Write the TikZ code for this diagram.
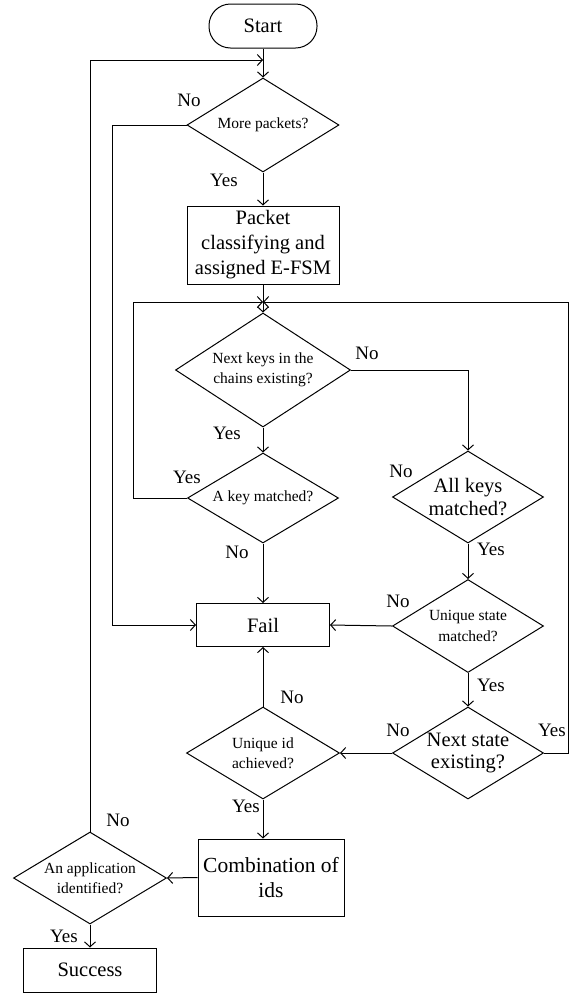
\documentclass[tikz,border=0pt]{standalone}
\usepackage{fontspec}
\setmainfont{Liberation Serif}
\usetikzlibrary{shapes.geometric,arrows.meta}
\begin{document}
\begin{tikzpicture}[x=1pt,y=-1pt,line width=1pt,
  >={Straight Barb[length=5pt,width=11pt]},
  arr/.style={->},
  boxn/.style={draw,rectangle,inner sep=0pt,align=center,font=\fontsize{20.5}{24.5}\selectfont},
  dia/.style={draw,diamond,inner sep=0pt},
  small/.style={align=center,inner sep=0pt,font=\fontsize{15.5}{20.5}\selectfont},
  big/.style={align=center,inner sep=0pt,font=\fontsize{20.5}{22.5}\selectfont},
  lab/.style={inner sep=0pt,font=\fontsize{19}{21}\selectfont}]
\useasboundingbox (0,0) rectangle (573,994);
% nodes
\node[boxn,rounded corners=21.5pt,minimum width=108pt,minimum height=44pt] (start) at (263,26) {Start};
\coordinate (t1) at (263,60);
\node[dia,minimum width=152pt,minimum height=94pt] (more) at (263,125) {};
\node[small] (moret) at (more) {More packets?};
\node[boxn,minimum width=152pt,minimum height=78pt,font=\fontsize{20.5}{25}\selectfont] (packet) at (263,245) {Packet\\classifying and\\assigned E-FSM};
\coordinate (m1) at (263,302);
\node[dia,minimum width=175pt,minimum height=114pt] (nk) at (263,370) {};
\node[small] (nkt) at (nk) {Next keys in the\\chains existing?};
\node[dia,minimum width=151pt,minimum height=90pt] (ak) at (263,498) {};
\node[small] (akt) at (ak) {A key matched?};
\node[dia,minimum width=151pt,minimum height=92pt] (all) at (468,497) {};
\node[big] (allt) at (all) {All keys\\matched?};
\node[boxn,minimum width=133pt,minimum height=43pt] (fail) at (263,625) {Fail};
\node[dia,minimum width=151pt,minimum height=93pt] (us) at (468,626) {};
\node[small] (ust) at (us) {Unique state\\matched?};
\node[dia,minimum width=153pt,minimum height=92pt] (uid) at (263,753) {};
\node[small] (uidt) at (uid) {Unique id\\achieved?};
\node[dia,minimum width=151pt,minimum height=92pt] (ns) at (468,753) {};
\node[big] (nst) at (ns) {Next state\\existing?};
\node[boxn,minimum width=146pt,minimum height=77pt,font=\fontsize{21.5}{25}\selectfont] (comb) at (271,877.5) {Combination of\\ids};
\node[dia,minimum width=153pt,minimum height=92pt] (app) at (90,878) {};
\node[small] (appt) at (app) {An application\\identified?};
\node[boxn,minimum width=133pt,minimum height=44pt] (succ) at (90,970) {Success};
% connectors
\draw[arr] (start.south) -- (more.north);
\draw[arr] (app.north) |- (t1);
\draw[arr] (more.west) -- ++(-74,0) |- (fail.west);
\draw[arr] (more.south) -- (packet.north);
\draw[arr] (packet.south) -- (nk.north);
\draw[arr] (ak.west) -- ++(-53.5,0) |- (m1);
\draw[arr] (ns.east) -- ++(24.5,0) |- (m1);
\draw[arr] (nk.east) -| (all.north);
\draw[arr] (nk.south) -- (ak.north);
\draw[arr] (ak.south) -- (fail.north);
\draw[arr] (all.south) -- (us.north);
\draw[arr] (us.west) -- (fail.east);
\draw[arr] (us.south) -- (ns.north);
\draw[arr] (ns.west) -- (uid.east);
\draw[arr] (uid.north) -- (fail.south);
\draw[arr] (uid.south) -- (uid.south |- comb.north);
\draw[arr] (comb.west) -- (app.east);
\draw[arr] (app.south) -- (succ.north);
% labels
\node[lab] (l1) at (189,100) {No};
\node[lab] (l2) at (224,180) {Yes};
\node[lab] (l3) at (367,353) {No};
\node[lab] (l4) at (227,433) {Yes};
\node[lab] (l5) at (187,477) {Yes};
\node[lab] (l6) at (401,471) {No};
\node[lab] (l7) at (237,552) {No};
\node[lab] (l8) at (491,549) {Yes};
\node[lab] (l9) at (398,601) {No};
\node[lab] (l10) at (491,685) {Yes};
\node[lab] (l11) at (292,697) {No};
\node[lab] (l12) at (398,730) {No};
\node[lab] (l13) at (552,730) {Yes};
\node[lab] (l14) at (246,806) {Yes};
\node[lab] (l15) at (118,820) {No};
\node[lab] (l16) at (64,936) {Yes};
\end{tikzpicture}
\end{document}
